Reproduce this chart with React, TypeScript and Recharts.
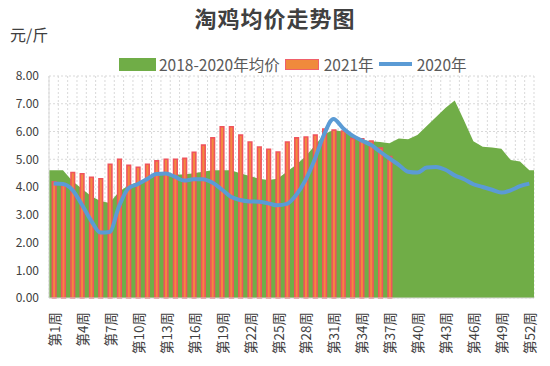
import React from 'react';
import { ComposedChart, Area, Bar, Line, XAxis, YAxis, CartesianGrid, Legend } from 'recharts';

const FONT = '"Noto Sans CJK SC", "Noto Sans", sans-serif';

const weeks = [
  1, 2, 3, 4, 5, 6, 7, 8, 9, 10, 11, 12, 13, 14, 15, 16, 17, 18, 19, 20, 21, 22, 23, 24, 25, 26,
  27, 28, 29, 30, 31, 32, 33, 34, 35, 36, 37, 38, 39, 40, 41, 42, 43, 44, 45, 46, 47, 48, 49, 50, 51, 52,
];
const tickWeeks = [1, 4, 7, 10, 13, 16, 19, 22, 25, 28, 31, 34, 37, 40, 43, 46, 49, 52];
const yTicks = [0, 1, 2, 3, 4, 5, 6, 7, 8];

const avg2018to2020 = [
  4.6, 4.6, 4.22, 3.95, 3.68, 3.5, 3.42, 3.83, 4.05, 4.18, 4.28, 4.4, 4.48, 4.45, 4.45, 4.5, 4.55, 4.6,
  4.6, 4.6, 4.5, 4.4, 4.3, 4.25, 4.3, 4.55, 4.8, 5.1, 5.5, 5.9, 6.05, 6.0, 5.85, 5.7, 5.65, 5.62, 5.58,
  5.75, 5.72, 5.87, 6.2, 6.52, 6.85, 7.12, 6.4, 5.65, 5.45, 5.42, 5.38, 4.97, 4.92, 4.6,
];
const price2021 = [
  4.19, 4.12, 4.52, 4.48, 4.35, 4.3, 4.82, 5.0, 4.78, 4.71, 4.82, 4.94, 5.0, 5.0, 5.03, 5.25, 5.51, 5.77,
  6.17, 6.17, 5.87, 5.62, 5.44, 5.36, 5.26, 5.62, 5.77, 5.8, 5.87, 6.09, 6.05, 6.02, 5.75, 5.74, 5.66,
  5.4, 5.1,
];
const price2020 = [
  4.13, 4.11, 3.9, 3.38, 2.8, 2.36, 2.38, 3.3, 3.95, 4.1, 4.28, 4.47, 4.49, 4.37, 4.23, 4.28, 4.28, 4.16,
  3.92, 3.65, 3.53, 3.48, 3.47, 3.41, 3.34, 3.39, 3.71, 4.25, 5.0, 5.9, 6.45, 6.13, 5.86, 5.68, 5.52,
  5.27, 5.03, 4.8, 4.55, 4.52, 4.7, 4.72, 4.62, 4.42, 4.28, 4.1, 4.0, 3.9, 3.8, 3.88, 4.03, 4.12,
];

const seriesKeys = ['avg', 'y2021', 'y2020'];
const seriesNames = ['2018-2020年均价', '2021年', '2020年'];

// Category boundaries (for vertical gridlines between weeks)
const gridBounds = [weeks[0] - 0.5, ...weeks.map((w) => w + 0.5)];
const xDomain = [weeks[0] - 0.5, weeks[weeks.length - 1] + 0.5];

// The area is extended flat half a category at each end, like the original
const data = [
  { x: xDomain[0], avg: avg2018to2020[0] },
  ...weeks.map((w, i) => ({ x: w, avg: avg2018to2020[i], y2021: price2021[i], y2020: price2020[i] })),
  { x: xDomain[1], avg: avg2018to2020[avg2018to2020.length - 1] },
];

const verticalGrid = (props: any) => {
  const { xAxis, offset } = props;
  if (xAxis && typeof xAxis.scale === 'function') {
    return gridBounds.map((b) => xAxis.scale(b));
  }
  return gridBounds.map(
    (b) => offset.left + ((b - xDomain[0]) / (xDomain[1] - xDomain[0])) * offset.width,
  );
};

const WeekTick = (props: any) => {
  const { x, y, payload } = props;
  return (
    <text
      x={x}
      y={y}
      transform={`rotate(-90, ${x}, ${y})`}
      textAnchor="end"
      dominantBaseline="central"
      fontSize={13.5}
      fill="#404040"
      fontFamily={FONT}
    >{`第${payload.value}周`}</text>
  );
};

const LegendContent = (props: any) => {
  const payload: any[] = props.payload || [];
  const items = [...payload].sort((a, b) => seriesKeys.indexOf(a.dataKey) - seriesKeys.indexOf(b.dataKey));
  return (
    <div style={{ display: 'flex', alignItems: 'center', fontFamily: FONT, fontSize: 15.5, color: '#595959', whiteSpace: 'nowrap' }}>
      {items.map((entry: any, i: number) => {
        let icon: React.ReactNode = null;
        if (entry.dataKey === 'avg') {
          icon = <div style={{ width: 37, height: 13, background: '#70AD47' }} />;
        } else if (entry.dataKey === 'y2021') {
          icon = <div style={{ width: 32, height: 9, background: '#F08A3C', border: '1.5px solid #F0606A' }} />;
        } else {
          icon = <div style={{ width: 33, height: 4, background: '#5B9BD5' }} />;
        }
        return (
          <div key={i} style={{ display: 'flex', alignItems: 'center', marginLeft: i === 0 ? 0 : 5 }}>
            {icon}
            <span style={{ marginLeft: i === 0 ? 3 : 5, lineHeight: '18px' }}>{entry.value}</span>
          </div>
        );
      })}
    </div>
  );
};

export default function App() {
  return (
    <div style={{ position: 'absolute', left: 0, top: 0, width: 550, height: 366, background: '#fff', fontFamily: FONT }}>
      <div
        style={{
          position: 'absolute', left: 0, width: 550, top: 3, textAlign: 'center',
          fontSize: 22, fontWeight: 700, color: '#404040', lineHeight: '28px', letterSpacing: 1,
        }}
      >
        淘鸡均价走势图
      </div>
      <div style={{ position: 'absolute', left: 10, top: 23, fontSize: 16, color: '#404040', lineHeight: '22px' }}>元/斤</div>
      <ComposedChart width={550} height={366} data={data} margin={{ top: 76, right: 16, bottom: 0, left: 0 }}>
        <CartesianGrid stroke="#d9d9d9" strokeDasharray="2 2" verticalCoordinatesGenerator={verticalGrid} />
        <XAxis
          type="number"
          dataKey="x"
          domain={xDomain}
          ticks={tickWeeks}
          interval={0}
          height={68}
          tickLine={false}
          tickMargin={8}
          axisLine={{ stroke: '#d9d9d9' }}
          tick={<WeekTick />}
        />
        <YAxis
          domain={[0, 8]}
          ticks={yTicks}
          width={49}
          tickLine={false}
          tickMargin={4}
          axisLine={{ stroke: '#d9d9d9' }}
          tickFormatter={(v: number) => v.toFixed(2)}
          tick={{ fontSize: 12, fill: '#404040', fontFamily: FONT }}
        />
        <Legend
          layout="horizontal"
          verticalAlign="middle"
          align="center"
          content={<LegendContent />}
          wrapperStyle={{ position: 'absolute', left: 119, top: 55, width: 420, height: 18 }}
        />
        <Area
          type="linear"
          dataKey="avg"
          name={seriesNames[0]}
          fill="#70AD47"
          fillOpacity={1}
          stroke="none"
          isAnimationActive={false}
          dot={false}
          activeDot={false}
        />
        <Bar
          dataKey="y2021"
          name={seriesNames[1]}
          barSize={3.6}
          fill="#F28A3E"
          stroke="#F0545C"
          strokeWidth={1.6}
          isAnimationActive={false}
        />
        <Line
          type="monotone"
          dataKey="y2020"
          name={seriesNames[2]}
          stroke="#5B9BD5"
          strokeWidth={4}
          dot={false}
          activeDot={false}
          isAnimationActive={false}
        />
      </ComposedChart>
    </div>
  );
}
